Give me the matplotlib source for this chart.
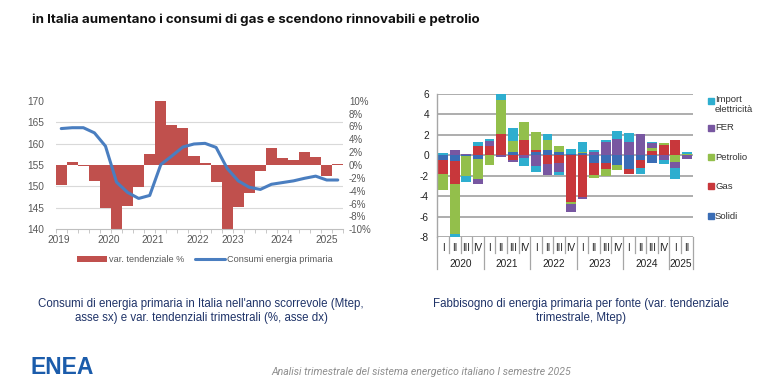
import matplotlib
matplotlib.use("Agg")
import matplotlib.pyplot as plt
from matplotlib.patches import Rectangle
import numpy as np

plt.rcParams['axes.unicode_minus'] = False
plt.rcParams['font.family'] = ['Liberation Sans', 'DejaVu Sans']

# ---------------- data: left chart ----------------
year_labels_left = ['2019', '2020', '2021', '2022', '2023', '2024', '2025']
year_label_pos_left = [0.3, 4.76, 8.77, 12.8, 15.97, 20.46, 24.5]
var_tendenziale = [-3.1, 0.45, -0.1, -2.5, -6.7, -10.5, -6.3, -3.4, 1.65, 10.5,
                   6.2, 5.75, 1.45, 0.36, -2.65, -10.5, -6.6, -4.4, -1.0, 2.7,
                   1.05, 0.8, 2.0, 1.2, -1.75, 0.1]
consumi = [163.5, 163.7, 163.7, 162.5, 159.4, 151.0, 148.6, 147.2, 147.9, 155.1,
           157.1, 159.2, 159.9, 160.05, 159.1, 154.2, 151.3, 149.8, 149.3, 150.5,
           150.9, 151.3, 151.9, 152.4, 151.5, 151.5]
left_ticks = [140, 145, 150, 155, 160, 165, 170]
right_ticks = [-10, -8, -6, -4, -2, 0, 2, 4, 6, 8, 10]

# ---------------- data: right chart ----------------
quarters = ['I', 'II', 'III', 'IV'] * 5 + ['I', 'II']
years = ['2020', '2021', '2022', '2023', '2024', '2025']
year_sizes = [4, 4, 4, 4, 4, 2]
series_names = ['Solidi', 'Gas', 'Petrolio', 'FER', 'Import\nelettricità']
solidi = [-0.45, -0.5, -0.1, -0.33, 0.0, 0.0, 0.37, 0.0, 0.36, 0.5, 0.36,
          0.18, 0.2, -0.75, -0.75, -0.95, -1.32, -0.42, -0.75, 0.0, 0.0, 0.0]
gas = [-1.35, -2.3, 0.0, 0.95, 0.95, 2.08, -0.42, 1.5, 0.16, -0.85, -0.78,
       -4.58, -4.07, -1.18, -0.61, 0.0, -0.47, -0.81, 0.46, 1.02, 1.5, 0.0]
petrolio = [-1.6, -4.85, -1.9, -2.0, -0.95, 3.37, 1.04, 1.76, 1.76, 1.0, 0.55,
            -0.13, 0.13, -0.26, -0.61, -0.45, 0.0, 0.0, 0.3, 0.18, -0.65, 0.1]
fer = [0.0, 0.5, 0.15, -0.45, 0.5, -0.2, -0.2, -0.23, -1.04, -1.07, -0.87,
       -0.8, -0.18, 0.33, 1.3, 1.58, 1.3, 2.08, 0.42, -0.43, -0.59, -0.33]
import_el = [0.2, -0.4, -0.55, 0.33, 0.15, 0.6, 1.27, -0.8, -0.59, 0.6, -0.27,
             0.45, 0.95, 0.18, 0.2, 0.8, 0.88, -0.55, 0.13, -0.37, -1.05, 0.2]
series_colors = ['#3A6DB5', '#C8373B', '#93BF4B', '#7857A1', '#2EAECF']

W, H = 768, 389
fig = plt.figure(figsize=(W / 100, H / 100), dpi=100)
fig.patch.set_facecolor('white')

def fx(px):
    return px / W

def fy(py):
    return 1 - py / H

# ---------------- title ----------------
fig.text(fx(32), fy(20), 'in Italia aumentano i consumi di gas e scendono rinnovabili e petrolio',
         family=['Inter', 'DejaVu Sans'], fontweight='bold', fontsize=9.6,
         color='#111111', ha='left', va='center')

# ---------------- left chart ----------------
gray_txt = '#595959'
axb = fig.add_axes([fx(55.7), fy(229.3), fx(343.3 - 55.7), (229.3 - 100.7) / H])
axl = axb.twinx()

n = len(var_tendenziale)
xq = np.arange(n) + 0.5
axb.bar(xq, var_tendenziale, width=1.0, color='#C0504D', edgecolor='none', zorder=2,
        label='var. tendenziale %')
axb.set_ylim(-10, 10)
axb.set_xlim(0, n)
axb.set_yticks(right_ticks)
axb.set_yticklabels([f'{v}%' for v in right_ticks])
axb.set_yticks(np.linspace(-10, 10, len(left_ticks)), minor=True)
axb.yaxis.grid(True, which='minor', color='#D9D9D9', linewidth=0.8, zorder=0)
axb.yaxis.tick_right()
axb.tick_params(axis='y', which='both', length=0, labelsize=7, colors=gray_txt, pad=4,
                left=False, labelleft=False, right=True, labelright=True)
axb.set_xticks(year_label_pos_left)
axb.set_xticklabels(year_labels_left)
axb.set_xticks(np.arange(0, n + 1), minor=True)
axb.tick_params(axis='x', which='major', length=0, labelsize=7.3, colors=gray_txt, pad=4)
axb.tick_params(axis='x', which='minor', length=3, color='#BFBFBF', direction='out')
for s in ['top', 'left', 'right']:
    axb.spines[s].set_visible(False)
axb.spines['bottom'].set_color('#BFBFBF')
axb.set_axisbelow(True)

axl.plot(xq, consumi, color='#4A7EC0', linewidth=2.2, solid_capstyle='round',
         label='Consumi energia primaria', zorder=3)
axl.set_ylim(140, 170)
axl.set_yticks(left_ticks)
axl.yaxis.tick_left()
axl.tick_params(axis='y', length=0, labelsize=7.3, colors=gray_txt, pad=8,
                right=False, labelright=False, left=True, labelleft=True)
for s in ['top', 'left', 'right', 'bottom']:
    axl.spines[s].set_visible(False)

hb, lb = axb.get_legend_handles_labels()
hl, ll = axl.get_legend_handles_labels()
fig.legend(hb + hl, lb + ll, loc='center', bbox_to_anchor=(fx(205), fy(260)), ncol=2,
           frameon=False, fontsize=6.6, labelcolor=gray_txt, handlelength=3.2,
           handleheight=0.55, columnspacing=1.2, handletextpad=0.25)

# ---------------- right chart ----------------
axr = fig.add_axes([fx(437.3), fy(237.3), fx(692.7 - 437.3), (237.3 - 94) / H])
m = len(quarters)
xc = np.arange(m)
series = [solidi, gas, petrolio, fer, import_el]
pos_b = np.zeros(m)
neg_b = np.zeros(m)
for vals, col, name in zip(series, series_colors, series_names):
    v = np.array(vals)
    bottom = np.where(v >= 0, pos_b, neg_b)
    axr.bar(xc, v, width=0.84, bottom=bottom, color=col, edgecolor='none', zorder=2,
            label=name)
    pos_b = pos_b + np.where(v > 0, v, 0)
    neg_b = neg_b + np.where(v < 0, v, 0)
axr.set_xlim(-0.5, m - 0.5)
axr.set_ylim(-8, 6)
axr.set_yticks(np.arange(-8, 7, 2))
axr.yaxis.grid(True, color='#A0A0A0', linewidth=1.2, zorder=0)
axr.set_axisbelow(True)
axr.tick_params(axis='y', length=0, labelsize=7.3, colors='#222222', pad=6)
axr.set_xticks([])
for s in ['top', 'right', 'bottom']:
    axr.spines[s].set_visible(False)
axr.spines['left'].set_color('#A6A6A6')
axr.spines['left'].set_linewidth(1.0)

trans = axr.get_xaxis_transform()
for i, q in enumerate(quarters):
    axr.text(i, -0.073, q, transform=trans, ha='center', va='center', fontsize=7,
             color='#222222', clip_on=False)
edges = np.cumsum([0] + year_sizes)
for k in range(m + 1):
    ybot = -0.222 if k in edges else -0.11
    axr.plot([k - 0.5, k - 0.5], [0, ybot], transform=trans, color='#A6A6A6',
             linewidth=0.9, clip_on=False)
for y, s0, sz in zip(years, edges[:-1], year_sizes):
    axr.text(s0 + sz / 2 - 0.5, -0.185, y, transform=trans, ha='center', va='center',
             fontsize=7.3, color='#222222', clip_on=False)

# legend of right chart (reverse order, as in the original)
leg_y = [101, 128, 157, 186, 216]
for name, col, yy in zip(series_names[::-1], series_colors[::-1], leg_y):
    fig.patches.append(Rectangle((fx(708), fy(yy + 2.8)), fx(5.5), 5.5 / H,
                                 transform=fig.transFigure, color=col))
    if '\n' in name:
        fig.text(fx(715), fy(yy - 5.5), name, ha='left', va='top', fontsize=6.8,
                 color='#333333', linespacing=1.0)
    else:
        fig.text(fx(715), fy(yy), name, ha='left', va='center', fontsize=6.8,
                 color='#333333')

# ---------------- captions ----------------
cap_col = '#1F3368'
capfam = ['Liberation Sans Narrow', 'Liberation Sans', 'DejaVu Sans']
fig.text(fx(201), fy(311), "Consumi di energia primaria in Italia nell'anno scorrevole (Mtep,\n"
         "asse sx) e var. tendenziali trimestrali (%, asse dx)", ha='center', va='center',
         fontsize=8.3, color=cap_col, family=capfam, linespacing=1.25)
fig.text(fx(581), fy(311), "Fabbisogno di energia primaria per fonte (var. tendenziale\n"
         "trimestrale, Mtep)", ha='center', va='center',
         fontsize=8.3, color=cap_col, family=capfam, linespacing=1.25)

# ---------------- footer ----------------
fig.text(fx(31), fy(368), 'ENEA', ha='left', va='center', fontsize=16.5, fontweight='bold',
         color='#1B5CAB', family=capfam)
fig.text(fx(421), fy(372), 'Analisi trimestrale del sistema energetico italiano I semestre 2025',
         ha='center', va='center', fontsize=7.6, style='italic', color='#8E8E8E',
         family=['Roboto', 'DejaVu Sans'])

fig.savefig('out.png', dpi=100, facecolor='white')
